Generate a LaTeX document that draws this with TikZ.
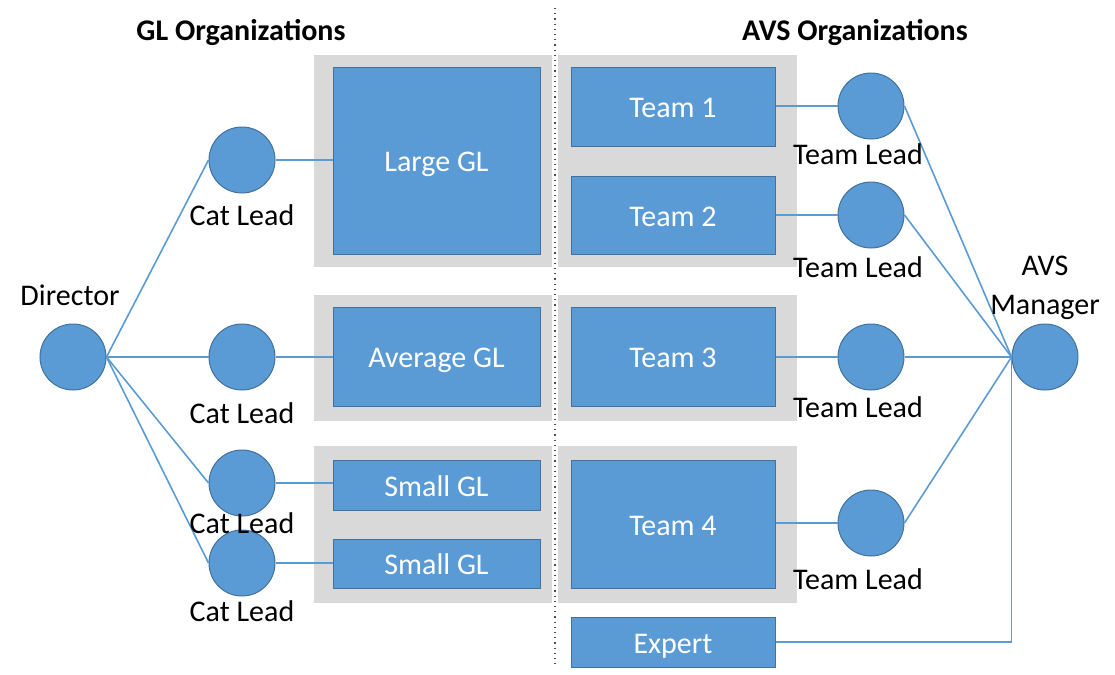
\documentclass[tikz,border=0pt]{standalone}
\usepackage{fontspec}
\setmainfont{Carlito}
\definecolor{boxblue}{HTML}{5B9BD5}
\definecolor{edgeblue}{HTML}{41719C}
\definecolor{bggray}{HTML}{D9D9D9}
\begin{document}
\begin{tikzpicture}[x=0.5pt,y=-0.5pt,
  every node/.style={font=\fontsize{15}{18}\selectfont},
  person/.style={circle,fill=boxblue,draw=edgeblue,line width=0.5pt,minimum size=33pt,inner sep=0pt},
  orgbox/.style={rectangle,fill=boxblue,draw=edgeblue,line width=0.5pt,text=white,inner sep=0pt,text height=11.2pt,text depth=0pt},
  bgpanel/.style={fill=bggray,draw=none},
  lbl/.style={inner sep=0pt,text=black},
  ttl/.style={inner sep=0pt,text=black,font=\fontsize{15}{18}\selectfont\bfseries},
  link/.style={draw=boxblue,line width=0.8pt}]
\useasboundingbox (0,0) rectangle (1115,675);
% background panels
\fill[bgpanel] (314,55) rectangle (552,267);
\fill[bgpanel] (314,295) rectangle (552,421);
\fill[bgpanel] (314,446) rectangle (552,603);
\fill[bgpanel] (558,55) rectangle (797,267);
\fill[bgpanel] (558,295) rectangle (797,421);
\fill[bgpanel] (558,446) rectangle (797,603);
% divider
\coordinate (divtop) at (555,8);
\coordinate (divbot) at (555,667);
\draw[dotted,line width=0.6pt,black!70] (divtop) -- (divbot);
% titles
\node[ttl] (gltitle) at (241,32) {GL Organizations};
\node[ttl] (avstitle) at (855,32) {AVS Organizations};
% boxes
\node[orgbox,minimum width=103.5pt,minimum height=93.5pt] (large) at (436.5,160.5) {Large GL};
\node[orgbox,minimum width=103.5pt,minimum height=49.5pt] (average) at (436.5,356.5) {Average GL};
\node[orgbox,minimum width=103.5pt,minimum height=25pt] (small1) at (436.5,485) {Small GL};
\node[orgbox,minimum width=103.5pt,minimum height=24.5pt] (small2) at (436.5,563.5) {Small GL};
\node[orgbox,minimum width=102pt,minimum height=39.5pt] (team1) at (673,106.5) {Team 1};
\node[orgbox,minimum width=102pt,minimum height=39pt] (team2) at (673,215) {Team 2};
\node[orgbox,minimum width=102pt,minimum height=49.5pt] (team3) at (673,356.5) {Team 3};
\node[orgbox,minimum width=102pt,minimum height=64pt] (team4) at (673,524) {Team 4};
\node[orgbox,minimum width=102pt,minimum height=25pt] (expert) at (673,642) {Expert};
% people
\node[person] (director) at (73,357) {};
\node[person] (cat1) at (242,160) {};
\node[person] (cat2) at (242,357) {};
\node[person] (cat3) at (242,483) {};
\node[person] (cat4) at (242,563) {};
\node[person] (tl1) at (871,106) {};
\node[person] (tl2) at (871,215) {};
\node[person] (tl3) at (871,357) {};
\node[person] (tl4) at (871,523) {};
\node[person] (mgr) at (1045,357) {};
% connectors
\foreach \c in {cat1,cat2,cat3,cat4} \draw[link] (director.east) -- (\c.west);
\draw[link] (cat1.east) -- (cat1.east -| large.west);
\draw[link] (cat2.east) -- (cat2.east -| average.west);
\draw[link] (cat3.east) -- (cat3.east -| small1.west);
\draw[link] (cat4.east) -- (cat4.east -| small2.west);
\draw[link] (tl1.west -| team1.east) -- (tl1.west);
\draw[link] (tl2.west -| team2.east) -- (tl2.west);
\draw[link] (tl3.west -| team3.east) -- (tl3.west);
\draw[link] (tl4.west -| team4.east) -- (tl4.west);
\foreach \t in {tl1,tl2,tl3,tl4} \draw[link] (\t.east) -- (mgr.west);
\draw[link] (expert.east) -| (mgr.west);
% labels
\node[lbl] (dirlbl) at (70,295) {Director};
\node[lbl] (cat1lbl) at (242,215) {Cat Lead};
\node[lbl] (cat2lbl) at (242,413) {Cat Lead};
\node[lbl] (cat3lbl) at (242,523) {Cat Lead};
\node[lbl] (cat4lbl) at (242,611) {Cat Lead};
\node[lbl] (tl1lbl) at (858,154) {Team Lead};
\node[lbl] (tl2lbl) at (858,267) {Team Lead};
\node[lbl] (tl3lbl) at (858,407) {Team Lead};
\node[lbl] (tl4lbl) at (858,579) {Team Lead};
\node[lbl,align=center] (mgrlbl) at (1045,288) {AVS\\[1.5pt]Manager};
\end{tikzpicture}
\end{document}
